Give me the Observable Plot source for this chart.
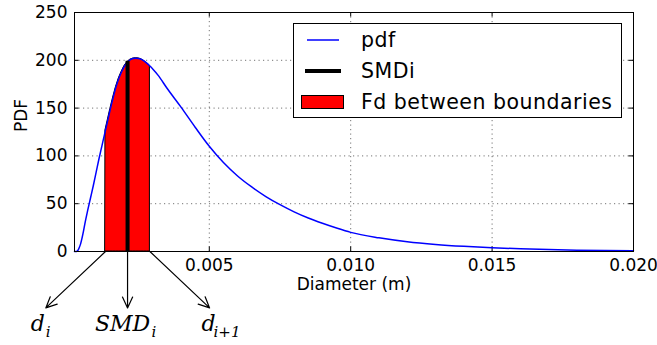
<!DOCTYPE html>
<html>
<head>
<meta charset="utf-8">
<script src="https://cdn.jsdelivr.net/npm/d3@7"></script>
<script src="https://cdn.jsdelivr.net/npm/@observablehq/plot@0.6"></script>
<style>
  body { margin: 0; background: white; }
</style>
</head>
<body>
<div id="chart"></div>
<script>
// ---- data ----
const diameters = [0.000234, 0.0003, 0.00035, 0.0004, 0.00045, 0.0005, 0.00055, 0.0006, 0.0007, 0.0008, 0.0009,
  0.001, 0.0011, 0.0012, 0.0013, 0.00133, 0.0014, 0.0015, 0.0016, 0.0017, 0.0018, 0.0019,
  0.002, 0.0021, 0.0022, 0.0023, 0.0024, 0.0025, 0.0026, 0.0027, 0.0028, 0.0029, 0.003,
  0.0032, 0.0035, 0.004, 0.0045, 0.005, 0.0055, 0.006, 0.0065, 0.007, 0.0075, 0.008,
  0.0085, 0.009, 0.0095, 0.01, 0.011, 0.012, 0.013, 0.014, 0.015, 0.016, 0.017, 0.018, 0.019, 0.02];
const pdfValues = [0, 0, 1, 4, 8, 14, 21, 29, 43, 56, 69,
  83, 97, 110, 123, 127, 136, 149, 161, 172, 181, 188,
  194, 198, 200.5, 201.8, 202.2, 202, 201, 199.2, 196.8, 194, 191,
  184, 171, 151, 130, 110, 93, 79, 67.5, 57.5, 49, 41.5,
  35, 29.5, 24.5, 20, 14.3, 10.2, 7.4, 5.4, 3.9, 2.8, 2.0, 1.4, 1.0, 0.7];

const dLeft = 0.00133;      // d_i
const smdValue = 0.00211;   // SMD_i
const dRight = 0.0029;      // d_{i+1}
const smdTop = 199;

const xTicks = [0.005, 0.010, 0.015, 0.020];
const yTicks = [0, 50, 100, 150, 200, 250];
const legendLabels = ["pdf", "SMDi", "Fd between boundaries"];
const annotMain = ["d", "SMD", "d"];
const annotSub = ["i", "i", "i+1"];
const xLabel = "Diameter (m)";
const yLabel = "PDF";

// ---- build ----
const curve = diameters.map((x, i) => ({x, y: pdfValues[i]}));
const band = curve.filter(d => d.x >= dLeft && d.x <= dRight);
const xDomain = [0.000234, 0.02];

const arrowDx = 0.00211, arrowY = -59;
const annots = [
  {x1: dLeft, x2: dLeft - arrowDx, main: annotMain[0], sub: annotSub[0], mdx: -8, sdx: 0},
  {x1: smdValue, x2: smdValue, main: annotMain[1], sub: annotSub[1], mdx: -5, sdx: 24},
  {x1: dRight, x2: dRight + arrowDx, main: annotMain[2], sub: annotSub[2], mdx: -1, sdx: 4}
];

const tickLenY = 4.5 / 0.958;
const tickLenX = 4.5 / 28260;
const gridStyle = {stroke: "#000", strokeOpacity: 0.55, strokeDasharray: "1.2,3.3", strokeWidth: 1};

const marks = [
  Plot.ruleX(xTicks.slice(0, 3), gridStyle),
  Plot.ruleY(yTicks.slice(1, 5), gridStyle),
  // inward ticks
  Plot.ruleX(xTicks.slice(0, 3), {y1: 0, y2: tickLenY, stroke: "#000"}),
  Plot.ruleX(xTicks.slice(0, 3), {y1: 250, y2: 250 - tickLenY, stroke: "#000"}),
  Plot.ruleY(yTicks.slice(1, 5), {x1: xDomain[0], x2: xDomain[0] + tickLenX, stroke: "#000"}),
  Plot.ruleY(yTicks.slice(1, 5), {x1: 0.02, x2: 0.02 - tickLenX, stroke: "#000"}),
  Plot.areaY(band, {x: "x", y: "y", fill: "#ff0000", stroke: "#000", strokeWidth: 1}),
  Plot.line(curve, {x: "x", y: "y", stroke: "#0000ff", strokeWidth: 1.5, curve: "monotone-x"}),
  Plot.ruleX([smdValue], {y1: 0, y2: smdTop, stroke: "#000", strokeWidth: 4}),
  Plot.frame({stroke: "#000"}),
  Plot.axisY({ticks: yTicks, tickSize: 0, tickPadding: 7, label: null, fontSize: 17}),
  Plot.axisX({ticks: xTicks, tickFormat: d3.format(".3f"), tickSize: 0, tickPadding: 7, label: null, fontSize: 17}),
  Plot.text([xLabel], {frameAnchor: "bottom", dy: 38, fontSize: 17, text: d => d}),
  Plot.text([yLabel], {frameAnchor: "left", dx: -52.5, rotate: -90, fontSize: 17, text: d => d}),
  Plot.arrow(annots, {x1: "x1", y1: () => 0, x2: "x2", y2: () => arrowY, stroke: "#000", strokeWidth: 1.2, headLength: 15, headAngle: 50, bend: 0})
];
for (const a of annots) {
  marks.push(Plot.text([a], {x: "x2", y: () => -75.5, text: "main", dx: a.mdx, fontFamily: "DejaVu Serif", fontStyle: "italic", fontSize: 22, textAnchor: "middle", fill: "#000"}));
  marks.push(Plot.text([a], {x: "x2", y: () => -84, text: "sub", dx: a.sdx, fontFamily: "DejaVu Serif", fontStyle: "italic", fontSize: 15, textAnchor: "start", fill: "#000"}));
}

const chart = Plot.plot({
  width: 657,
  height: 345,
  marginTop: 12,
  marginRight: 24,
  marginBottom: 94,
  marginLeft: 74,
  style: {fontFamily: "DejaVu Sans", fontSize: "17px", color: "#000", background: "white", overflow: "visible"},
  x: {domain: xDomain},
  y: {domain: [0, 250]},
  marks
});

// legend inside the plot area
const svg = d3.select(chart);
const lg = svg.append("g").attr("font-family", "DejaVu Sans").attr("font-size", 20.5)
  .attr("letter-spacing", "0.5px").attr("text-anchor", "start");
lg.append("rect").attr("x", 293.5).attr("y", 23.5).attr("width", 328).attr("height", 94)
  .attr("fill", "white").attr("stroke", "#000");
const rowsY = [40, 71, 102];
lg.append("line").attr("x1", 307).attr("x2", 339).attr("y1", rowsY[0]).attr("y2", rowsY[0])
  .attr("stroke", "#0000ff").attr("stroke-width", 1.5);
lg.append("line").attr("x1", 305).attr("x2", 341).attr("y1", rowsY[1]).attr("y2", rowsY[1])
  .attr("stroke", "#000").attr("stroke-width", 4);
lg.append("rect").attr("x", 301.5).attr("y", 95.5).attr("width", 42).attr("height", 13)
  .attr("fill", "#ff0000").attr("stroke", "#000");
legendLabels.forEach((t, i) => {
  lg.append("text").attr("x", 361).attr("y", rowsY[i]).attr("dy", "0.35em")
    .attr("text-anchor", "start").attr("fill", "#000").text(t);
});

document.getElementById("chart").appendChild(chart);
</script>
</body>
</html>
